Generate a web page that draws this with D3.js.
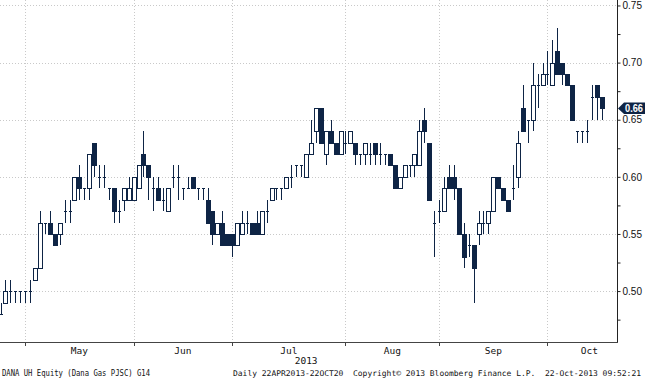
<!DOCTYPE html>
<html><head><meta charset="utf-8">
<script src="https://cdn.jsdelivr.net/npm/d3@7/dist/d3.min.js"></script>
<style>
html,body{margin:0;padding:0;background:#fff;}
svg{display:block;}
</style></head>
<body><svg id="c" width="645" height="380"></svg>
<script>
// Trading days (Sun–Thu, Abu Dhabi) shown on the chart
const dates = [
"2013-04-24","2013-04-25","2013-04-28","2013-04-29","2013-04-30",
"2013-05-01","2013-05-02","2013-05-05","2013-05-06","2013-05-07","2013-05-08","2013-05-09","2013-05-12","2013-05-13","2013-05-14","2013-05-15","2013-05-16","2013-05-19","2013-05-20","2013-05-21","2013-05-22","2013-05-23","2013-05-26","2013-05-27","2013-05-28","2013-05-29","2013-05-30",
"2013-06-02","2013-06-03","2013-06-04","2013-06-05","2013-06-09","2013-06-10","2013-06-11","2013-06-12","2013-06-13","2013-06-16","2013-06-17","2013-06-18","2013-06-19","2013-06-20","2013-06-23","2013-06-24","2013-06-25","2013-06-26","2013-06-27","2013-06-30",
"2013-07-01","2013-07-02","2013-07-03","2013-07-04","2013-07-07","2013-07-08","2013-07-09","2013-07-10","2013-07-11","2013-07-14","2013-07-15","2013-07-16","2013-07-17","2013-07-18","2013-07-21","2013-07-22","2013-07-23","2013-07-24","2013-07-25","2013-07-28","2013-07-29","2013-07-30","2013-07-31",
"2013-08-01","2013-08-04","2013-08-05","2013-08-06","2013-08-11","2013-08-12","2013-08-13","2013-08-14","2013-08-15","2013-08-18","2013-08-19","2013-08-20","2013-08-21","2013-08-22","2013-08-25","2013-08-26","2013-08-27","2013-08-28","2013-08-29",
"2013-09-01","2013-09-02","2013-09-03","2013-09-04","2013-09-05","2013-09-08","2013-09-09","2013-09-10","2013-09-11","2013-09-12","2013-09-15","2013-09-16","2013-09-17","2013-09-18","2013-09-19","2013-09-22","2013-09-23","2013-09-24","2013-09-25","2013-09-26","2013-09-29","2013-09-30",
"2013-10-01","2013-10-02","2013-10-03","2013-10-06","2013-10-07","2013-10-08","2013-10-09","2013-10-10","2013-10-13","2013-10-20","2013-10-21","2013-10-22"
];
const open = [0.48,0.49,0.50,0.50,0.50,0.50,0.50,0.51,0.52,0.56,0.56,0.55,0.55,0.57,0.57,0.58,0.60,0.59,0.59,0.63,0.60,0.60,0.59,0.59,0.57,0.58,0.58,0.58,0.59,0.62,0.61,0.59,0.59,0.58,0.57,0.60,0.60,0.59,0.59,0.60,0.59,0.59,0.58,0.57,0.55,0.56,0.55,0.55,0.54,0.55,0.56,0.56,0.56,0.55,0.57,0.58,0.59,0.59,0.59,0.60,0.61,0.61,0.60,0.62,0.64,0.66,0.62,0.64,0.63,0.62,0.63,0.63,0.63,0.62,0.62,0.62,0.63,0.62,0.62,0.62,0.61,0.59,0.60,0.61,0.61,0.61,0.65,0.63,0.56,0.57,0.57,0.60,0.60,0.59,0.55,0.54,0.54,0.55,0.56,0.56,0.57,0.60,0.59,0.58,0.59,0.60,0.66,0.65,0.65,0.68,0.68,0.69,0.68,0.71,0.70,0.69,0.68,0.64,0.64,0.64,0.67,0.68,0.67];
const high = [0.49,0.51,0.51,0.50,0.50,0.50,0.51,0.52,0.57,0.56,0.57,0.55,0.56,0.58,0.58,0.60,0.61,0.59,0.62,0.63,0.61,0.61,0.59,0.59,0.58,0.59,0.60,0.60,0.61,0.64,0.61,0.60,0.60,0.59,0.59,0.61,0.61,0.59,0.60,0.60,0.59,0.59,0.59,0.57,0.56,0.57,0.55,0.55,0.56,0.57,0.57,0.56,0.57,0.57,0.58,0.59,0.59,0.59,0.60,0.61,0.61,0.61,0.62,0.65,0.66,0.66,0.64,0.65,0.63,0.64,0.64,0.64,0.63,0.62,0.63,0.63,0.63,0.63,0.62,0.62,0.61,0.60,0.61,0.61,0.62,0.65,0.66,0.63,0.57,0.58,0.60,0.61,0.61,0.59,0.56,0.55,0.54,0.57,0.57,0.57,0.60,0.60,0.59,0.58,0.61,0.64,0.68,0.65,0.70,0.69,0.70,0.71,0.72,0.73,0.70,0.69,0.68,0.64,0.64,0.65,0.68,0.68,0.67];
const low = [0.48,0.49,0.49,0.49,0.49,0.49,0.49,0.51,0.52,0.55,0.55,0.54,0.54,0.56,0.56,0.58,0.58,0.58,0.58,0.60,0.59,0.59,0.58,0.56,0.56,0.57,0.58,0.58,0.59,0.60,0.58,0.57,0.58,0.57,0.57,0.59,0.58,0.58,0.59,0.59,0.58,0.58,0.56,0.54,0.55,0.54,0.54,0.53,0.54,0.55,0.55,0.55,0.55,0.55,0.56,0.58,0.58,0.58,0.59,0.59,0.60,0.60,0.60,0.62,0.63,0.63,0.61,0.63,0.62,0.62,0.62,0.63,0.61,0.61,0.61,0.61,0.61,0.61,0.61,0.61,0.59,0.59,0.60,0.60,0.60,0.61,0.63,0.58,0.53,0.56,0.57,0.59,0.58,0.55,0.52,0.53,0.49,0.54,0.55,0.55,0.57,0.59,0.58,0.57,0.58,0.59,0.64,0.63,0.64,0.66,0.68,0.68,0.68,0.69,0.68,0.68,0.65,0.63,0.63,0.63,0.65,0.65,0.65];
const close = [0.48,0.50,0.50,0.50,0.50,0.50,0.50,0.52,0.56,0.56,0.55,0.54,0.56,0.57,0.57,0.60,0.59,0.59,0.62,0.61,0.60,0.60,0.59,0.57,0.57,0.59,0.59,0.60,0.61,0.61,0.60,0.59,0.58,0.58,0.59,0.60,0.60,0.59,0.59,0.59,0.59,0.59,0.56,0.55,0.56,0.54,0.54,0.54,0.56,0.56,0.56,0.55,0.55,0.57,0.57,0.59,0.59,0.59,0.60,0.60,0.61,0.61,0.62,0.63,0.66,0.63,0.64,0.63,0.62,0.64,0.63,0.64,0.62,0.62,0.63,0.62,0.62,0.62,0.62,0.61,0.59,0.60,0.61,0.61,0.62,0.64,0.64,0.58,0.56,0.57,0.59,0.59,0.59,0.55,0.53,0.54,0.52,0.56,0.56,0.57,0.60,0.59,0.58,0.57,0.59,0.63,0.64,0.65,0.68,0.68,0.69,0.69,0.70,0.69,0.69,0.68,0.65,0.64,0.64,0.64,0.67,0.67,0.66];

const monthLabels = ["May","Jun","Jul","Aug","Sep","Oct"];
const priceTicks = [0.50,0.55,0.60,0.65,0.70,0.75];
const minorTicks = [0.475,0.525,0.575,0.625,0.675,0.725];
const yearLabel = "2013";
const footerLeft = "DANA UH Equity (Dana Gas PJSC) G14";
const footerRight = "Daily 22APR2013-22OCT20  Copyright\u00A9 2013 Bloomberg Finance L.P.  22-Oct-2013 09:52:21";

const W = 617, H = 341;
const navy = "#0e2445";
const svg = d3.select("#c");

const x = d3.scaleLinear().domain([0, dates.length - 1]).range([0.56, 601.7]);
const y = d3.scaleLinear().domain([0.4563, 0.7548]).range([H, 0]);

svg.append("defs").append("clipPath").attr("id","plot")
  .append("rect").attr("x",0).attr("y",0).attr("width",W).attr("height",H);

// month starts
const monthStarts = [];
dates.forEach((d,i)=>{ if(i>0 && d.slice(5,7)!==dates[i-1].slice(5,7)) monthStarts.push(i); });
const monthEnds = monthStarts.slice(1).concat([monthStarts[monthStarts.length-1] + 17]);

// grid
const grid = svg.append("g").attr("stroke","#c9c9c9").attr("stroke-width",1).attr("stroke-dasharray","1,2");
priceTicks.forEach(p=>{
  const yy = Math.round(y(p)) + 0.5;
  grid.append("line").attr("x1",0).attr("x2",W).attr("y1",yy).attr("y2",yy);
});
monthStarts.forEach(i=>{
  const xx = Math.round(x(i)) + 0.5;
  grid.append("line").attr("x1",xx).attr("x2",xx).attr("y1",0).attr("y2",H+1);
});

// candles
const g = svg.append("g").attr("clip-path","url(#plot)");
dates.forEach((d,i)=>{
  const px = Math.round(x(i));
  const yo = Math.round(y(open[i])), yc = Math.round(y(close[i]));
  const yh = Math.round(y(high[i])), yl = Math.round(y(low[i]));
  g.append("line").attr("x1",px+0.5).attr("x2",px+0.5).attr("y1",yh).attr("y2",yl)
    .attr("stroke",navy).attr("stroke-width",1);
  if (open[i] === close[i]) {
    g.append("line").attr("x1",px-1).attr("x2",px+2).attr("y1",yo+0.5).attr("y2",yo+0.5)
      .attr("stroke",navy).attr("stroke-width",1);
  } else {
    const top = Math.min(yo,yc), bot = Math.max(yo,yc);
    const up = close[i] > open[i];
    g.append("rect").attr("x",px-1.5).attr("y",top+0.5).attr("width",4).attr("height",bot-top)
      .attr("fill", up ? "#fff" : navy).attr("stroke",navy).attr("stroke-width",1);
  }
});

// right axis
const axis = d3.axisRight(y).tickValues(priceTicks).tickSize(3).tickPadding(2).tickFormat(d3.format(".2f"));
const ag = svg.append("g").attr("transform",`translate(${W+0.5},0)`).call(axis);
ag.select(".domain").attr("d",`M0,0V${H+2}`).attr("stroke","#222");
ag.selectAll(".tick line").attr("stroke","#222");
ag.selectAll(".tick text").attr("font-family","Liberation Sans, Arial, sans-serif").attr("font-size","10px").attr("fill","#111");
const minorAxis = d3.axisRight(y).tickValues(minorTicks).tickSize(3).tickFormat("");
const mg = svg.append("g").attr("transform",`translate(${W+0.5},0)`).call(minorAxis);
mg.select(".domain").remove();
mg.selectAll(".tick line").attr("stroke","#222");

// bottom axis
svg.append("line").attr("x1",0).attr("x2",W+1).attr("y1",H+1.5).attr("y2",H+1.5).attr("stroke","#444");
monthStarts.forEach(i=>{
  const xx = Math.round(x(i)) + 0.5;
  svg.append("line").attr("x1",xx).attr("x2",xx).attr("y1",H+1).attr("y2",H+5).attr("stroke","#444");
});
monthLabels.forEach((m,k)=>{
  const cx = x((monthStarts[k] + monthEnds[k]) / 2);
  svg.append("text").attr("x",cx).attr("y",354).attr("text-anchor","middle")
    .attr("font-family","DejaVu Sans Mono, monospace").attr("font-size","9.5px").attr("fill","#111").text(m);
});
svg.append("text").attr("x",x(monthStarts[2]) + 74).attr("y",364).attr("text-anchor","middle")
  .attr("font-family","DejaVu Sans Mono, monospace").attr("font-size","9.5px").attr("fill","#111").text(yearLabel);

// footer
svg.append("text").attr("x",2).attr("y",376).attr("font-family","DejaVu Sans Mono, monospace")
  .attr("font-size","8.6px").attr("fill","#111").attr("textLength",148).attr("lengthAdjust","spacingAndGlyphs").text(footerLeft);
svg.append("text").attr("x",233).attr("y",376).attr("font-family","DejaVu Sans Mono, monospace")
  .attr("font-size","7.9px").attr("fill","#111").attr("textLength",408).attr("lengthAdjust","spacingAndGlyphs")
  .attr("xml:space","preserve").style("white-space","pre").text(footerRight);

// last price tag
const last = close[close.length-1];
const ly = Math.round(y(last)) + 0.5;
svg.append("path").attr("d",`M${W+1},${ly} L${W+7},${ly-6} H645 V${ly+5.5} H${W+7} Z`).attr("fill",navy);
svg.append("text").attr("x",W+8).attr("y",ly+3.8).attr("font-family","Liberation Sans, Arial, sans-serif")
  .attr("font-size","10px").attr("font-weight","bold").attr("fill","#fff")
  .attr("textLength",18).attr("lengthAdjust","spacingAndGlyphs").text(d3.format(".2f")(last));
</script>
</body></html>
